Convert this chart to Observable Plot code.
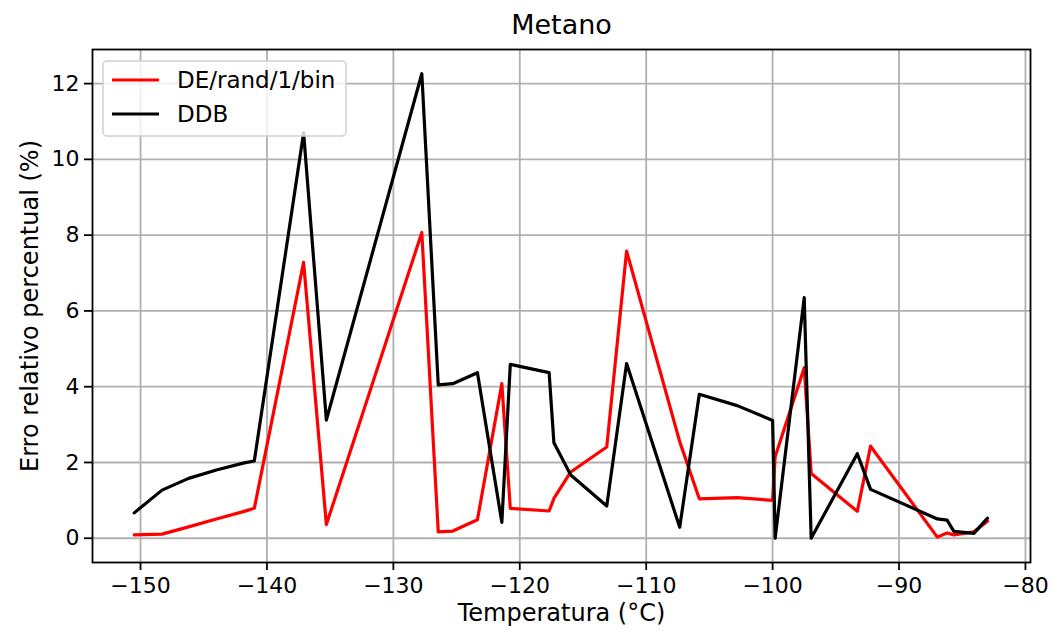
<!DOCTYPE html>
<html>
<head>
<meta charset="utf-8">
<script src="https://cdn.jsdelivr.net/npm/d3@7"></script>
<script src="https://cdn.jsdelivr.net/npm/@observablehq/plot@0.6"></script>
<style>
  html, body { margin: 0; padding: 0; background: #fff; }
  #chart { width: 1050px; height: 632px; }
  #chart svg text { font-family: "DejaVu Sans", sans-serif; }
</style>
</head>
<body>
<div id="chart"></div>
<script>
// Temperature (°C), shared by both series
const temperatura = [-150.5, -148.3, -146.2, -144.0, -141.8, -141.0, -137.1, -135.3, -127.75, -126.45,
  -125.3, -123.35, -121.42, -120.75, -117.68, -117.3, -115.97, -113.12, -111.55, -107.35,
  -105.8, -102.8, -100.0, -99.8, -97.5, -96.95, -93.3, -92.25, -86.97, -86.2,
  -85.66, -84.08, -83.0];
// Relative error (%) — DE/rand/1/bin
const deRand1Bin = [0.09, 0.11, 0.30, 0.51, 0.71, 0.79, 7.28, 0.36, 8.07, 0.17,
  0.19, 0.49, 4.08, 0.79, 0.72, 1.05, 1.75, 2.41, 7.58, 2.55,
  1.04, 1.07, 1.00, 2.15, 4.50, 1.71, 0.71, 2.43, 0.03, 0.14,
  0.09, 0.17, 0.45];
// Relative error (%) — DDB
const ddb = [0.67, 1.27, 1.58, 1.80, 1.99, 2.04, 10.7, 3.12, 12.26, 4.05,
  4.08, 4.37, 0.42, 4.59, 4.37, 2.52, 1.67, 0.85, 4.61, 0.29,
  3.80, 3.50, 3.11, 0.0, 6.35, 0.0, 2.23, 1.29, 0.51, 0.48,
  0.18, 0.13, 0.53];

const seriesNames = ["DE/rand/1/bin", "DDB"];
const seriesColors = ["#ff0000", "#000000"];
const xTicks = [-150, -140, -130, -120, -110, -100, -90, -80];
const yTicks = [0, 2, 4, 6, 8, 10, 12];
const title = "Metano";
const xLabel = "Temperatura (°C)";
const yLabel = "Erro relativo percentual (%)";

const deRows = temperatura.map((t, i) => ({t, v: deRand1Bin[i]}));
const ddbRows = temperatura.map((t, i) => ({t, v: ddb[i]}));

const fmt = d => (d < 0 ? "\u2212" : "") + Math.abs(d);

const plot = Plot.plot({
  width: 1050,
  height: 632,
  marginLeft: 92,
  marginRight: 20,
  marginTop: 49,
  marginBottom: 70,
  style: {fontFamily: "DejaVu Sans, sans-serif", fontSize: "22px", color: "#000", background: "#fff", overflow: "visible"},
  x: {domain: [-153.8, -79.6], ticks: xTicks},
  y: {domain: [-0.64, 12.9], ticks: yTicks},
  marks: [
    Plot.gridX(xTicks, {stroke: "#b0b0b0", strokeOpacity: 1, strokeWidth: 1.8}),
    Plot.gridY(yTicks, {stroke: "#b0b0b0", strokeOpacity: 1, strokeWidth: 1.8}),
    Plot.axisX(xTicks, {tickSize: 8, tickPadding: 7, tickFormat: fmt, strokeWidth: 1.8,
      label: xLabel, labelAnchor: "center", labelArrow: "none", labelOffset: 58}),
    Plot.axisY(yTicks, {tickSize: 8, tickPadding: 5, tickFormat: fmt, strokeWidth: 1.8,
      label: yLabel, labelAnchor: "center", labelArrow: "none", labelOffset: 72}),
    Plot.line(deRows, {x: "t", y: "v", stroke: seriesColors[0], strokeWidth: 3.2, strokeLinejoin: "round"}),
    Plot.line(ddbRows, {x: "t", y: "v", stroke: seriesColors[1], strokeWidth: 3.2, strokeLinejoin: "round"}),
    Plot.frame({stroke: "#000", strokeWidth: 1.8}),
    Plot.text([title], {frameAnchor: "top", lineAnchor: "middle", dy: -24, fill: "#000"})
  ]
});

document.getElementById("chart").appendChild(plot);
const svg = d3.select(plot);
svg.selectAll("g[aria-label='x-axis tick label'] text, g[aria-label='y-axis tick label'] text")
  .style("font-size", "22px");
svg.selectAll("g[aria-label='x-axis label'] text, g[aria-label='y-axis label'] text")
  .style("font-size", "24px");
svg.selectAll("g[aria-label='text'] text").style("font-size", "27px");

// Legend (upper left, matplotlib style)
const lg = svg.append("g").attr("transform", "translate(103,61)").attr("text-anchor", "start");
lg.append("rect").attr("x", 0).attr("y", 0).attr("width", 243).attr("height", 75)
  .attr("rx", 4).attr("fill", "#fff").attr("fill-opacity", 0.8)
  .attr("stroke", "#d0d0d0").attr("stroke-width", 1.5);
seriesNames.forEach((name, i) => {
  const y = 19 + i * 34;
  lg.append("line").attr("x1", 9).attr("x2", 56).attr("y1", y).attr("y2", y)
    .attr("stroke", seriesColors[i]).attr("stroke-width", 3.2);
  lg.append("text").attr("x", 74).attr("y", y).attr("dy", "0.35em")
    .attr("text-anchor", "start").attr("fill", "#000").style("font-size", "23px").text(name);
});
</script>
</body>
</html>
